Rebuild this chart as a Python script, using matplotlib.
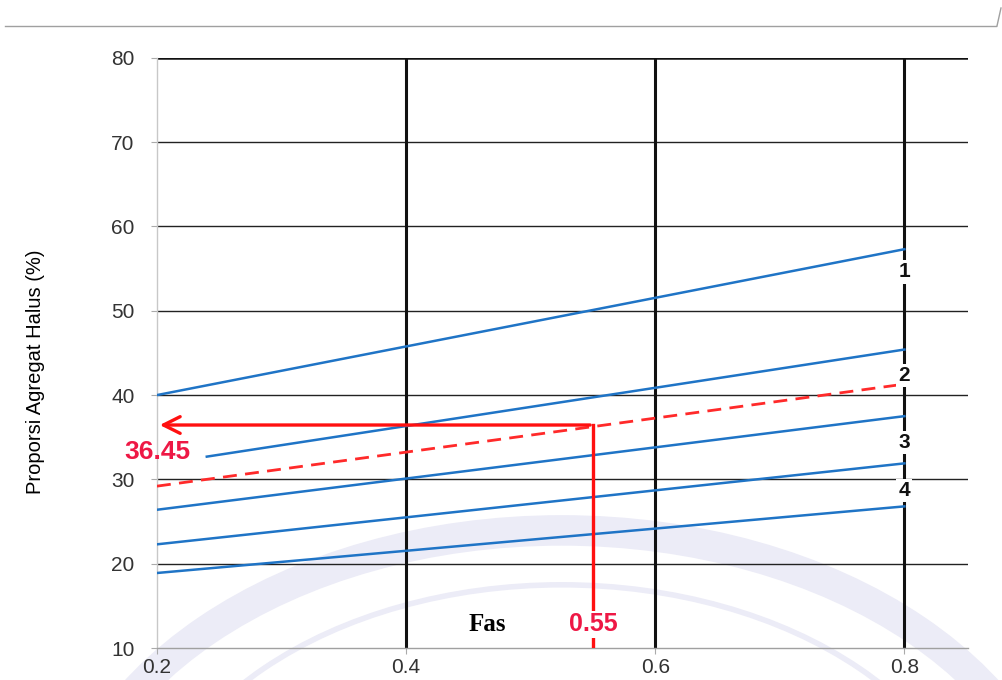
import matplotlib
matplotlib.use("Agg")
import matplotlib.pyplot as plt
from matplotlib.lines import Line2D
from matplotlib.patches import Circle

# ---- data ----
x_ticks = [0.2, 0.4, 0.6, 0.8]
y_ticks = [10, 20, 30, 40, 50, 60, 70, 80]

line1_top_x = [0.2, 0.8];  line1_top_y = [40.0, 57.3]
line1_bot_x = [0.24, 0.8]; line1_bot_y = [32.7, 45.4]
line2_bot_x = [0.2, 0.8];  line2_bot_y = [26.4, 37.5]
line3_bot_x = [0.2, 0.8];  line3_bot_y = [22.3, 31.9]
line4_bot_x = [0.2, 0.8];  line4_bot_y = [18.9, 26.8]
dashed_x = [0.2, 0.8];     dashed_y = [29.2, 41.3]

fas_value = 0.55
result_value = 36.45

zone_labels = ["1", "2", "3", "4"]
zone_label_y = [54.6, 42.3, 34.4, 28.7]

SANS = ["Liberation Sans", "DejaVu Sans"]

# ---- figure ----
fig = plt.figure(figsize=(10.03, 6.8), dpi=100)
fig.patch.set_facecolor("white")

# very faint watermark ring (background)
for r, lw in [(0.50, 22), (0.42, 4)]:
    c = Circle((0.56, -0.28), r, transform=fig.transFigure, fill=False,
               edgecolor="#ececf7", lw=lw, zorder=-5)
    fig.patches.append(c)

ax = fig.add_axes([0.1565, 0.047, 0.8085, 0.868])
ax.set_zorder(1)
ax.set_facecolor("none")
ax.set_xlim(0.2, 0.851)
ax.set_ylim(10, 80)

for s in ["top", "right"]:
    ax.spines[s].set_visible(False)
ax.spines["left"].set_color("#c8c8c8")
ax.spines["left"].set_linewidth(1.0)
ax.spines["bottom"].set_color("#a0a0a0")
ax.spines["bottom"].set_linewidth(1.0)

# grid
for y in y_ticks[1:-1]:
    ax.axhline(y, color="#222222", lw=1.0, zorder=1)
ax.axhline(80, color="#111111", lw=1.8, zorder=1)
for x in x_ticks[1:]:
    ax.axvline(x, color="#111111", lw=2.2, zorder=1)

ax.set_xticks(x_ticks)
ax.set_xticklabels(["0.2", "0.4", "0.6", "0.8"])
ax.set_yticks(y_ticks)
ax.tick_params(axis="both", colors="#aaaaaa", length=4, width=0.8,
               labelcolor="#333333", labelsize=15)
ax.tick_params(axis="y", pad=12)
ax.tick_params(axis="x", pad=3)
for lab in ax.get_xticklabels() + ax.get_yticklabels():
    lab.set_family(SANS)

blue = "#1f74c6"
for xs, ys in [(line1_top_x, line1_top_y), (line1_bot_x, line1_bot_y),
               (line2_bot_x, line2_bot_y), (line3_bot_x, line3_bot_y),
               (line4_bot_x, line4_bot_y)]:
    ax.plot(xs, ys, color=blue, lw=1.8, zorder=3)

ax.plot(dashed_x, dashed_y, color="#ff2a2a", lw=2.0, ls=(0, (5, 3)), zorder=3)

# zone labels
for lab, y in zip(zone_labels, zone_label_y):
    ax.text(0.8, y, lab, ha="center", va="center", fontsize=15, fontweight="bold",
            color="#111111", family=SANS,
            bbox=dict(facecolor="white", edgecolor="none", pad=1.5), zorder=4)

# red construction lines
red = "#ff1010"
ax.plot([fas_value, fas_value], [10.3, result_value], color=red, lw=2.4, zorder=5)
ax.annotate("", xy=(0.2, result_value), xytext=(fas_value, result_value),
            arrowprops=dict(arrowstyle="->", color=red, lw=2.4,
                            mutation_scale=30), zorder=5)

ax.text(0.2, 33.25, "36.45", ha="center", va="center", fontsize=19,
        fontweight="bold", color="#ee1845", family=SANS,
        zorder=6, clip_on=False)
ax.text(fas_value, 12.8, "0.55", ha="center", va="center", fontsize=18,
        fontweight="bold", color="#ee1845", family=SANS,
        bbox=dict(facecolor="white", edgecolor="none", pad=1.0), zorder=6)
ax.text(0.465, 12.8, "Fas", ha="center", va="center", fontsize=18,
        fontweight="bold", color="black", family=["Liberation Serif", "DejaVu Serif"],
        bbox=dict(facecolor="white", edgecolor="none", pad=6), zorder=6)

ax.set_ylabel("Proporsi Agregat Halus (%)", fontsize=14.5, color="#000000",
              family=SANS)
ax.yaxis.set_label_coords(-0.138, 0.468)

# top rule of page
fig.add_artist(Line2D([0.005, 0.993], [1 - 26 / 680, 1 - 26 / 680],
                      transform=fig.transFigure, color="#a0a0a0", lw=1.0))
fig.add_artist(Line2D([0.994, 0.998], [1 - 26 / 680, 1 - 8 / 680],
                      transform=fig.transFigure, color="#a0a0a0", lw=1.0))

fig.savefig("out.png", dpi=100, facecolor="white")
